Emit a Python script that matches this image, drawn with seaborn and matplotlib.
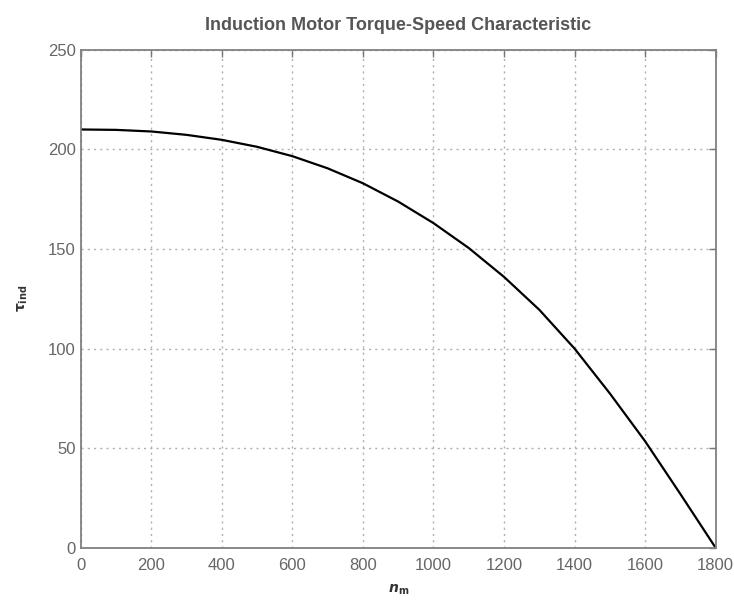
import numpy as np
import pandas as pd
import matplotlib
matplotlib.use('Agg')
import matplotlib.pyplot as plt
import seaborn as sns

# values
speed = [0, 100, 200, 300, 400, 500, 600, 700, 800, 900,
         1000, 1100, 1200, 1300, 1400, 1500, 1600, 1700, 1800]
torque = [210, 209.8, 209, 207.3, 204.8, 201.3, 196.6, 190.5, 183, 173.8,
          163, 150.5, 136, 119.5, 100, 77.5, 53.5, 27, 0]

x_ticks = [0, 200, 400, 600, 800, 1000, 1200, 1400, 1600, 1800]
y_ticks = [0, 50, 100, 150, 200, 250]

title = 'Induction Motor Torque-Speed Characteristic'

df = pd.DataFrame({'n_m': speed, 'tau_ind': torque})

sns.set_theme(style='white')
plt.rcParams['font.family'] = ['Liberation Sans', 'DejaVu Sans']

fig = plt.figure(figsize=(7.34, 6.0), dpi=100)
ax = fig.add_axes([0.110, 0.087, 0.865, 0.830])

sns.lineplot(data=df, x='n_m', y='tau_ind', color='black', linewidth=1.6, ax=ax)

ax.set_xlim(0, 1800)
ax.set_ylim(0, 250)
ax.set_xticks(x_ticks)
ax.set_yticks(y_ticks)
ax.grid(True, linestyle=(0, (1.5, 3)), color='#b0b0b0', linewidth=1.0)
ax.tick_params(direction='in', top=True, right=True, length=5, width=1,
               color='#777777', labelsize=12, labelcolor='#666666')
ax.tick_params(axis='x', pad=7)
for s in ax.spines.values():
    s.set_color('#808080')
    s.set_linewidth(1.3)

ax.set_title(title, fontsize=13, fontweight='bold', color='#555555', pad=14)
ax.set_xlabel(r'$\mathbfit{n}_{\mathbf{m}}$', fontsize=10, color='#333333')
ax.set_ylabel(r'$\mathbf{\tau_{ind}}$', fontsize=10, color='#333333')
ax.xaxis.set_label_coords(0.5, -0.070)
ax.yaxis.set_label_coords(-0.080, 0.5)

fig.savefig('out.png', dpi=100)
